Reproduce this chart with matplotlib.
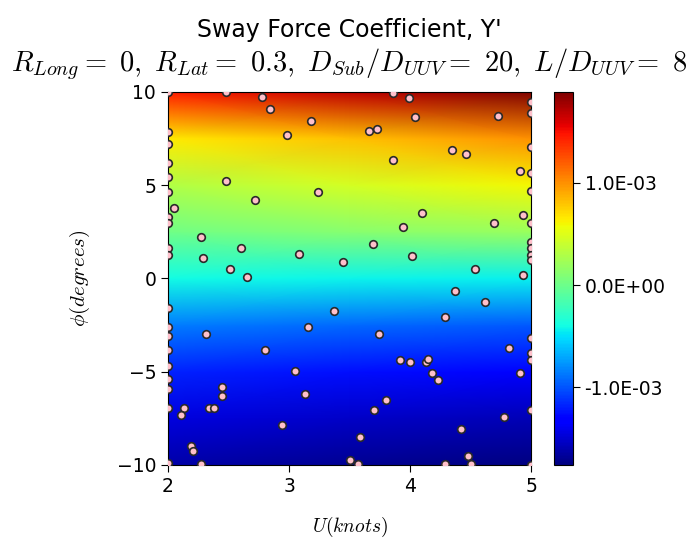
import numpy as np
import matplotlib
matplotlib.use("Agg")
import matplotlib.pyplot as plt

plt.rcParams['mathtext.fontset'] = 'cm'

# colour field (values in units of 1e-3)
U_grid = [2.0, 3.5, 5.0]
phi_grid = [-10, -7.5, -5, -2.5, 0, 2.5, 5, 7.5, 10]
Y_u2 = [-1.62, -1.45, -1.18, -0.85, -0.40, 0.02, 0.30, 0.65, 1.45]
Y_u35 = [-1.70, -1.52, -1.25, -0.92, -0.42, 0.12, 0.45, 0.82, 1.68]
Y_u5 = [-1.76, -1.58, -1.32, -0.98, -0.44, 0.20, 0.60, 1.00, 1.89]

# sample points
U_pts = [2.0, 2.48, 2.78, 2.84, 3.18, 2.98, 2.0, 2.0, 2.0, 2.0, 2.0, 2.05, 2.0, 2.0,
         2.0, 2.0, 2.48, 2.72, 3.24, 2.27, 2.60, 2.29, 3.08, 3.45, 2.51, 2.65,
         3.86, 3.99, 5.0, 5.0, 4.04, 4.73, 3.66, 3.73, 5.0, 4.35, 4.46, 3.86,
         4.91, 5.0, 5.0, 4.10, 4.93, 5.0, 3.94, 4.69, 3.69, 5.0, 5.0, 5.0, 5.0,
         4.02, 4.54, 4.93,
         2.0, 3.37, 2.0, 2.0, 2.31, 3.16, 2.0, 2.80, 2.0, 3.05, 2.0, 2.0, 2.45,
         2.45, 3.13, 2.0, 2.13, 2.11, 2.34, 2.38, 2.94, 2.19, 2.21, 2.27, 2.0,
         3.5, 4.37, 4.62, 4.29, 3.74, 5.0, 4.82, 5.0, 5.0, 3.92, 4.0, 4.13, 4.15,
         4.18, 4.23, 4.91, 3.80, 3.70, 5.0, 4.78, 4.42, 3.59, 4.48, 3.57, 4.29,
         4.50, 5.0]
phi_pts = [10.0, 10.0, 9.75, 9.07, 8.45, 7.71, 7.87, 7.2, 6.18, 5.46, 4.62, 3.8, 3.28,
           2.96, 1.62, 1.26, 5.23, 4.21, 4.62, 2.24, 1.62, 1.12, 1.31, 0.9, 0.51, 0.1,
           9.93, 9.66, 9.48, 8.87, 8.64, 8.73, 7.93, 8.04, 7.03, 6.89, 6.68, 6.37,
           5.76, 5.64, 4.71, 3.49, 3.39, 2.96, 2.76, 2.98, 1.83, 1.98, 1.62, 1.26,
           0.99, 1.21, 0.51, 0.19,
           -1.57, -1.77, -2.58, -3.06, -3.0, -2.6, -3.83, -3.83, -4.67, -4.96, -5.39,
           -5.9, -5.8, -6.32, -6.21, -6.93, -6.93, -7.34, -6.93, -6.93, -7.86, -9.0,
           -9.23, -9.96, -9.9, -9.73, -0.65, -1.27, -2.08, -3.0, -3.2, -3.73, -4.0,
           -4.37, -4.35, -4.46, -4.46, -4.33, -5.08, -5.47, -5.08, -6.51, -7.03,
           -7.05, -7.44, -8.07, -8.48, -9.5, -9.95, -9.96, -9.96, -10.0]

Z = np.array([Y_u2, Y_u35, Y_u5]).T * 1e-3
UU, PP = np.meshgrid(U_grid, phi_grid)

fig = plt.figure(figsize=(6.96, 5.48), dpi=100)
ax = fig.add_axes([0.2414, 0.1515, 0.5216, 0.6807])
cax = fig.add_axes([0.796, 0.1515, 0.027, 0.6807])

mesh = ax.pcolormesh(UU, PP, Z, cmap='jet', shading='gouraud')
ax.scatter(U_pts, phi_pts, s=30, c='pink', edgecolors='#2a2a2a', linewidths=1.2, zorder=3)

ax.set_xlim(2, 5)
ax.set_ylim(-10, 10)
ax.set_xticks([2, 3, 4, 5])
ax.set_yticks([-10, -5, 0, 5, 10])
ax.tick_params(labelsize=13.5, length=5)
ax.set_xlabel(r'$U(knots)$', fontsize=14, labelpad=14)
ax.set_ylabel(r'$\phi(degrees)$', fontsize=15, labelpad=18)

fig.text(0.502, 0.945, "Sway Force Coefficient, Y'", fontsize=17, ha='center', va='center')
fig.text(0.502, 0.883,
         r"$R_{Long} =\ 0,\ R_{Lat} =\ 0.3,\ D_{Sub}/D_{UUV} =\ 20,\ L/D_{UUV} =\ 8$",
         fontsize=20.5, ha='center', va='center')

cb = fig.colorbar(mesh, cax=cax, ticks=[-1e-3, 0, 1e-3], format='%.1E')
cb.ax.tick_params(labelsize=13.5, length=5)

fig.savefig('out.png', dpi=100)
